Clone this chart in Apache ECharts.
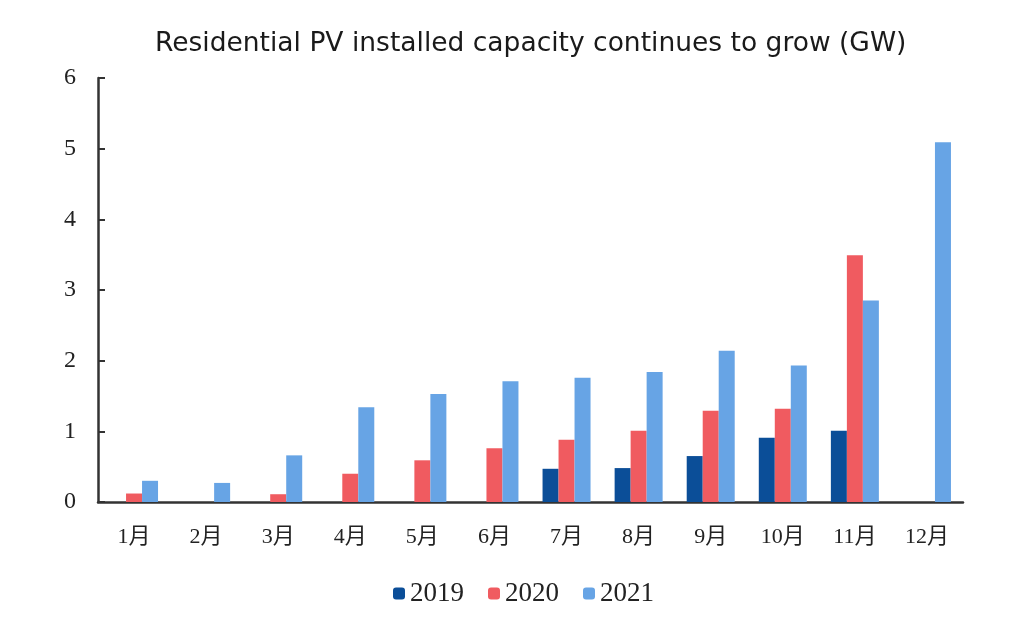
<!DOCTYPE html>
<html>
<head>
<meta charset="utf-8">
<script src="https://cdn.jsdelivr.net/npm/echarts@6/dist/echarts.min.js"></script>
<style>html,body{margin:0;padding:0;background:#fff;}#c{width:1024px;height:637px;}</style>
</head>
<body>
<div id="c"></div>
<script>
const categories = ['1月','2月','3月','4月','5月','6月','7月','8月','9月','10月','11月','12月'];
const s2019 = [null, null, null, null, null, null, 0.47, 0.48, 0.65, 0.91, 1.01, null];
const s2020 = [0.12, null, 0.11, 0.40, 0.59, 0.76, 0.88, 1.01, 1.29, 1.32, 3.49, null];
const s2021 = [0.30, 0.27, 0.66, 1.34, 1.53, 1.71, 1.76, 1.84, 2.14, 1.93, 2.85, 5.09];
const yTicks = [0, 1, 2, 3, 4, 5, 6];

const serif = '"Liberation Serif", "Times New Roman", "Noto Sans CJK SC", serif';
const chart = echarts.init(document.getElementById('c'));
chart.setOption({
  backgroundColor: '#ffffff',
  animation: false,
  title: {
    text: 'Residential PV installed capacity continues to grow (GW)',
    left: 150, top: 26,
    textStyle: { fontFamily: '"DejaVu Sans", "Liberation Sans", sans-serif', fontSize: 26.5, fontWeight: 'normal', color: '#1a1a1a' }
  },
  legend: {
    top: 575, left: 388,
    itemWidth: 12, itemHeight: 12, itemGap: 24,
    textStyle: { fontFamily: serif, fontSize: 27, color: '#222' },
    data: ['2019', '2020', '2021']
  },
  grid: { left: 98, right: 61, top: 78, bottom: 135, containLabel: false },
  xAxis: {
    type: 'category', data: categories,
    axisLine: { lineStyle: { color: '#333', width: 2.5 } },
    axisTick: { show: false },
    axisLabel: { fontFamily: serif, fontSize: 22, color: '#222', margin: 24 }
  },
  yAxis: {
    type: 'value', min: yTicks[0], max: yTicks[yTicks.length - 1], interval: 1,
    axisLine: { show: true, lineStyle: { color: '#333', width: 2.5 } },
    axisTick: { show: true, inside: true, length: 7, lineStyle: { color: '#333', width: 2 } },
    splitLine: { show: false },
    axisLabel: { fontFamily: serif, fontSize: 24, color: '#222', margin: 22 }
  },
  series: [
    { name: '2019', type: 'bar', data: s2019, itemStyle: { color: '#0b4e98' }, barWidth: 16, barGap: '0%' },
    { name: '2020', type: 'bar', data: s2020, itemStyle: { color: '#f05b60' }, barWidth: 16, barGap: '0%' },
    { name: '2021', type: 'bar', data: s2021, itemStyle: { color: '#67a4e5' }, barWidth: 16, barGap: '0%' }
  ]
});
</script>
</body>
</html>
